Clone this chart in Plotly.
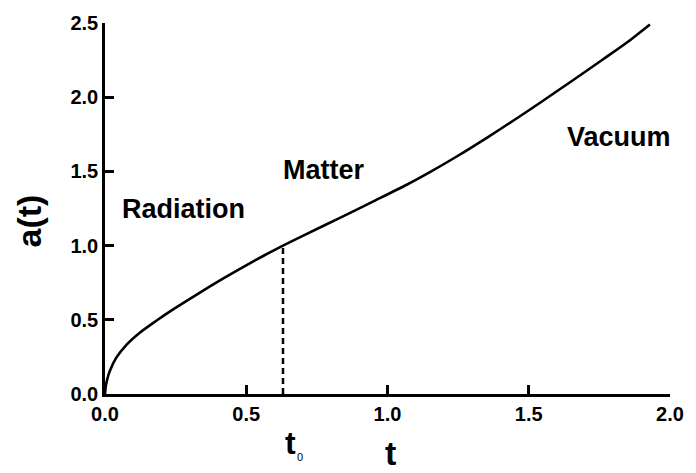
import plotly.graph_objects as go

# Scale factor a(t) through radiation, matter and vacuum eras
t_vals = [0.0, 0.002, 0.006, 0.017, 0.04, 0.075, 0.121, 0.179, 0.237, 0.329,
          0.422, 0.503, 0.56, 0.63, 0.70, 0.837, 0.95, 1.068, 1.15, 1.242,
          1.357, 1.45, 1.531, 1.65, 1.762, 1.85, 1.929]
a_vals = [0.0, 0.04, 0.085, 0.155, 0.245, 0.33, 0.41, 0.49, 0.565, 0.675,
          0.782, 0.87, 0.93, 1.0, 1.066, 1.192, 1.298, 1.41, 1.495, 1.597,
          1.733, 1.848, 1.951, 2.106, 2.254, 2.372, 2.49]

t0 = 0.63
a_t0 = 1.0

era_labels = ["Radiation", "Matter", "Vacuum"]
era_x = [0.052, 0.624, 1.629]
era_y = [1.25, 1.51, 1.73]

FONT = "Liberation Sans, Arial, sans-serif"

fig = go.Figure()
fig.add_trace(go.Scatter(x=t_vals, y=a_vals, mode="lines",
                         line=dict(color="black", width=2.6, shape="spline", smoothing=0.7),
                         showlegend=False, hoverinfo="skip"))
fig.add_trace(go.Scatter(x=[t0, t0], y=[0, a_t0], mode="lines",
                         line=dict(color="black", width=2.5, dash="6px,4px"),
                         showlegend=False, hoverinfo="skip"))

# Major ticks with labels on the main axes
axis_common = dict(
    showline=True, linecolor="black", linewidth=2.5, mirror=False,
    showgrid=False, zeroline=False,
    ticks="inside", ticklen=9, tickwidth=2.5, tickcolor="black",
    tickmode="linear", tick0=0, dtick=0.5,
    tickformat=".1f",
    tickfont=dict(family=FONT, size=20, color="black", weight="bold"),
)
fig.update_xaxes(range=[0, 2.0], **axis_common)
fig.update_yaxes(range=[0, 2.5], **axis_common)

# Minor ticks on overlaid, unlabeled axes
minor_common = dict(
    showline=False, showgrid=False, zeroline=False, showticklabels=False,
    ticks="inside", ticklen=5, tickwidth=2.5, tickcolor="black",
    tickmode="linear", tick0=0.25, dtick=0.5,
)
fig.update_layout(
    xaxis2=dict(overlaying="x", side="bottom", range=[0, 2.0], anchor="y", **minor_common),
    yaxis2=dict(overlaying="y", side="left", range=[0, 2.5], anchor="x", **minor_common),
)

for label, x, y in zip(era_labels, era_x, era_y):
    fig.add_annotation(x=x, y=y, text=f"<b>{label}</b>", showarrow=False,
                       xanchor="left", yanchor="middle",
                       font=dict(family=FONT, size=27, color="black"))

# Axis titles and the t0 marker label
fig.add_annotation(xref="paper", yref="paper", x=-0.135, y=0.467, text="<b>a(t)</b>",
                   textangle=-90, showarrow=False, xanchor="center", yanchor="middle",
                   font=dict(family=FONT, size=34, color="black"))
fig.add_annotation(xref="x", yref="paper", x=1.01, y=-0.16, text="<b>t</b>",
                   showarrow=False, xanchor="center", yanchor="middle",
                   font=dict(family=FONT, size=34, color="black"))
fig.add_annotation(xref="x", yref="paper", x=t0 + 0.025, y=-0.133, text="<b>t</b>",
                   showarrow=False, xanchor="center", yanchor="middle",
                   font=dict(family=FONT, size=32, color="black"))
fig.add_annotation(xref="x", yref="paper", x=t0 + 0.062, y=-0.17, text="0",
                   showarrow=False, xanchor="center", yanchor="middle",
                   font=dict(family=FONT, size=11, color="black"))

fig.update_layout(
    width=696, height=473,
    margin=dict(l=105, r=14, t=20, b=79),
    paper_bgcolor="white", plot_bgcolor="white",
    showlegend=False,
)

fig.write_html("out.html")
